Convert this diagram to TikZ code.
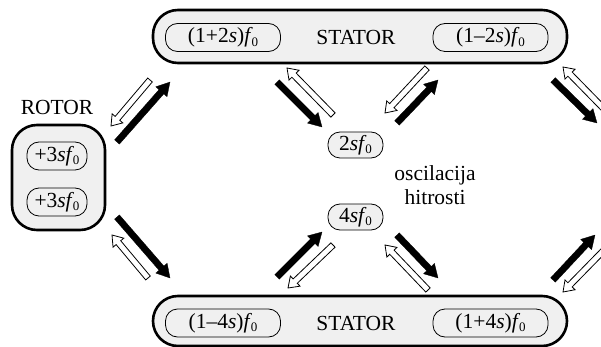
\documentclass[tikz,border=0pt]{standalone}
\usepackage{fontspec}
\setmainfont{Liberation Serif}
\usetikzlibrary{calc}
\definecolor{boxgray}{RGB}{240,240,240}
\newcommand\lowidx[1]{\kern-1.2pt\raisebox{-0.17em}{\fontsize{13}{14}\selectfont #1}}
% #1 style, #2 from, #3 to, #4 half shaft, #5 half head, #6 head length
\newcommand\fatarrow[6]{%
  \coordinate (fa-h) at ($(#3)!#6!(#2)$);
  \draw[#1] ($(#2)!#4!90:(#3)$) -- ($(fa-h)!#4!90:(#3)$) -- ($(fa-h)!#5!90:(#3)$)
    -- (#3) -- ($(fa-h)!#5!-90:(#3)$) -- ($(fa-h)!#4!-90:(#3)$) -- ($(#2)!#4!-90:(#3)$) -- cycle;}
\newcommand\blackarr[2]{\fatarrow{blackarrow}{#1}{#2}{3.2pt}{7.5pt}{13pt}}
\newcommand\whitearr[2]{\fatarrow{whitearrow}{#1}{#2}{3pt}{7pt}{10pt}}
\begin{document}
\begin{tikzpicture}[x=1pt,y=-1pt,
  font=\fontsize{21.5}{25}\selectfont,
  bigbox/.style={draw, line width=2.6pt, fill=boxgray, rounded corners=25pt, inner sep=0pt},
  pill/.style={draw, line width=0.8pt, fill=boxgray, rounded corners=12pt, inner sep=0pt, minimum height=28pt},
  smallpill/.style={pill, minimum width=55pt, minimum height=26pt},
  blackarrow/.style={fill=black, draw=black, line width=0.3pt, line join=miter},
  whitearrow/.style={fill=white, draw=black, line width=0.8pt, line join=miter},
  lbl/.style={inner sep=0pt}]
\useasboundingbox (0,0) rectangle (601,347);
\clip (0,0) rectangle (601,347);

% top stator
\node[bigbox, minimum width=414pt, minimum height=53pt] (stT) at (360,36.5) {};
\node[pill, minimum width=115pt] (p12) at (223,37.5) {(1+2\textit{s})\textit{f}\lowidx{0}};
\node[lbl] (stTl) at (356,37.5) {STATOR};
\node[pill, minimum width=115pt] (pm12) at (490.5,37.5) {(1–2\textit{s})\textit{f}\lowidx{0}};

% bottom stator
\node[bigbox, minimum width=414pt, minimum height=50pt] (stB) at (360,321) {};
\node[pill, minimum width=115pt] (pm14) at (223,323) {(1–4\textit{s})\textit{f}\lowidx{0}};
\node[lbl] (stBl) at (356,323) {STATOR};
\node[pill, minimum width=115pt] (p14) at (490.5,323) {(1+4\textit{s})\textit{f}\lowidx{0}};

% rotor
\node[lbl] (rotl) at (57,107) {ROTOR};
\node[bigbox, minimum width=93pt, minimum height=105pt] (rot) at (58.5,177.5) {};
\node[pill, minimum width=60pt] (r1) at (57,156) {+3\textit{sf}\lowidx{0}};
\node[pill, minimum width=60pt] (r2) at (57,202) {+3\textit{sf}\lowidx{0}};

% middle
\node[smallpill] (s2) at (355.5,145) {2\textit{sf}\lowidx{0}};
\node[smallpill] (s4) at (355.5,217) {4\textit{sf}\lowidx{0}};
\node[lbl] (osc) at (435,175) {oscilacija};
\node[lbl] (hit) at (435,197) {hitrosti};

% arrow end points
\coordinate (a1s) at (117,142); \coordinate (a1e) at (170,82);
\coordinate (a2s) at (150,80);  \coordinate (a2e) at (111,126);
\coordinate (a3s) at (277,82);  \coordinate (a3e) at (322,127);
\coordinate (a4s) at (333,115); \coordinate (a4e) at (287,68);
\coordinate (a5s) at (397,123); \coordinate (a5e) at (438,80);
\coordinate (a6s) at (427,68);  \coordinate (a6e) at (385,113);
\coordinate (a7s) at (553,80);  \coordinate (a7e) at (597,123);
\coordinate (a8s) at (609,114); \coordinate (a8e) at (563,67);
\coordinate (b1s) at (117,217); \coordinate (b1e) at (170,278);
\coordinate (b2s) at (148,278); \coordinate (b2e) at (112,235);
\coordinate (b3s) at (277,277); \coordinate (b3e) at (322,232);
\coordinate (b4s) at (333,245); \coordinate (b4e) at (288,288);
\coordinate (b5s) at (397,235); \coordinate (b5e) at (438,278);
\coordinate (b6s) at (428,290); \coordinate (b6e) at (385,245);
\coordinate (b7s) at (553,280); \coordinate (b7e) at (595,235);
\coordinate (b8s) at (609,245); \coordinate (b8e) at (563,292);

\blackarr{a1s}{a1e} \whitearr{a2s}{a2e}
\blackarr{a3s}{a3e} \whitearr{a4s}{a4e}
\blackarr{a5s}{a5e} \whitearr{a6s}{a6e}
\blackarr{a7s}{a7e} \whitearr{a8s}{a8e}
\blackarr{b1s}{b1e} \whitearr{b2s}{b2e}
\blackarr{b3s}{b3e} \whitearr{b4s}{b4e}
\blackarr{b5s}{b5e} \whitearr{b6s}{b6e}
\blackarr{b7s}{b7e} \whitearr{b8s}{b8e}
\end{tikzpicture}
\end{document}
